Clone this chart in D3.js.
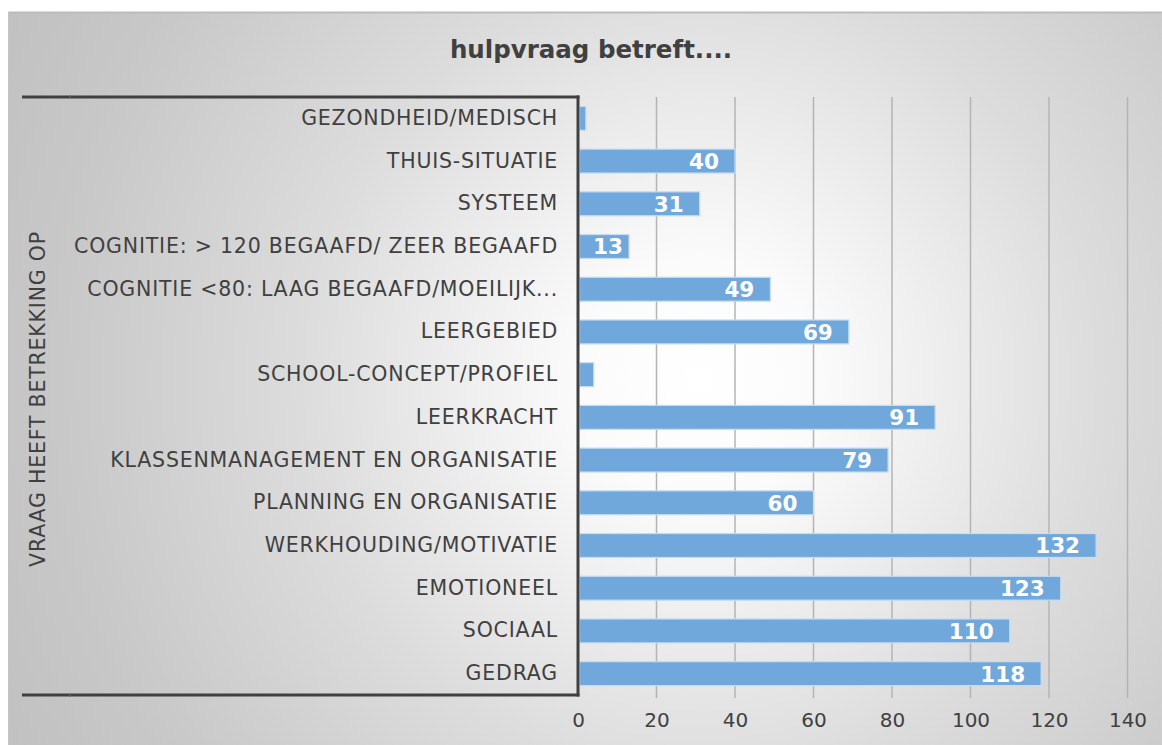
<!DOCTYPE html>
<html>
<head>
<meta charset="utf-8">
<script src="https://cdn.jsdelivr.net/npm/d3@7"></script>
<style>
  html, body { margin: 0; padding: 0; background: #ffffff; }
  svg { display: block; }
</style>
</head>
<body>
<svg id="chart" width="1162" height="745"></svg>
<script>
const categories = [
  "GEZONDHEID/MEDISCH",
  "THUIS-SITUATIE",
  "SYSTEEM",
  "COGNITIE: > 120 BEGAAFD/ ZEER BEGAAFD",
  "COGNITIE <80: LAAG BEGAAFD/MOEILIJK...",
  "LEERGEBIED",
  "SCHOOL-CONCEPT/PROFIEL",
  "LEERKRACHT",
  "KLASSENMANAGEMENT EN ORGANISATIE",
  "PLANNING EN ORGANISATIE",
  "WERKHOUDING/MOTIVATIE",
  "EMOTIONEEL",
  "SOCIAAL",
  "GEDRAG"
];
const values = [2, 40, 31, 13, 49, 69, 4, 91, 79, 60, 132, 123, 110, 118];
const xTicks = [0, 20, 40, 60, 80, 100, 120, 140];
const chartTitle = "hulpvraag betreft....";
const axisTitle = "VRAAG HEEFT BETREKKING OP";

const svg = d3.select("#chart");
const W = 1162, H = 745;
const textColor = "#404040";
const font = "'DejaVu Sans', Verdana, sans-serif";

// Background gradient
const defs = svg.append("defs");
const grad = defs.append("radialGradient")
  .attr("id", "bg").attr("gradientUnits", "userSpaceOnUse")
  .attr("cx", 700).attr("cy", 380).attr("r", 800)
  .attr("fx", 700).attr("fy", 380);
[[0, "#ffffff"], [0.15, "#fbfbfb"], [0.5, "#dcdcdc"], [0.8, "#c8c8c8"], [1, "#c0c0c0"]]
  .forEach(([o, c]) => grad.append("stop").attr("offset", o).attr("stop-color", c));

svg.append("rect").attr("x", 8).attr("y", 12).attr("width", W).attr("height", H)
  .attr("fill", "url(#bg)");
svg.append("line").attr("x1", 8).attr("x2", W).attr("y1", 12.5).attr("y2", 12.5)
  .attr("stroke", "#bcbcbc").attr("stroke-width", 2);
svg.append("line").attr("x1", 8.5).attr("x2", 8.5).attr("y1", 12).attr("y2", H)
  .attr("stroke", "#c4c4c4").attr("stroke-width", 1);

// Scales
const plotLeft = 578, plotTop = 97, plotBottom = 695;
const x = d3.scaleLinear().domain([0, 140]).range([plotLeft, 1127.5]);
const y = d3.scaleBand().domain(categories).range([plotTop, plotBottom])
  .paddingInner(0.44).paddingOuter(0.22);

// Title
svg.append("text").attr("x", 591).attr("y", 58).attr("text-anchor", "middle")
  .attr("font-family", font).attr("font-weight", "bold").attr("font-size", 24.5)
  .attr("fill", textColor).text(chartTitle);

// Gridlines
svg.append("g").selectAll("line").data(xTicks.filter(d => d > 0)).join("line")
  .attr("x1", d => x(d)).attr("x2", d => x(d))
  .attr("y1", plotTop).attr("y2", plotBottom + 3)
  .attr("stroke", "#b4b4b4").attr("stroke-width", 1.5);

// Bars
const data = categories.map((c, i) => ({ c, v: values[i] }));
svg.append("g").selectAll("rect").data(data).join("rect")
  .attr("x", x(0) + 1.5)
  .attr("y", d => y(d.c))
  .attr("width", d => x(d.v) - x(0) - 1.5)
  .attr("height", y.bandwidth())
  .attr("fill", "#70a8dc")
  .attr("stroke", "#c6dcf1").attr("stroke-width", 1.2);

// Data labels (inside end; pushed right when the bar is short)
svg.append("g").selectAll("text").data(data.filter(d => d.v >= 10)).join("text")
  .attr("x", d => Math.max(x(d.v) - 16, x(0) + 45))
  .attr("y", d => y(d.c) + y.bandwidth() / 2)
  .attr("dy", "0.37em")
  .attr("text-anchor", "end")
  .attr("font-family", font).attr("font-weight", "bold").attr("font-size", 21.5)
  .attr("fill", "#ffffff").text(d => d.v);

// Category axis (left)
const yAxis = d3.axisLeft(y).tickSize(0).tickPadding(20);
const gy = svg.append("g").attr("transform", `translate(${plotLeft},0)`).call(yAxis);
gy.select(".domain").remove();
gy.selectAll("text").attr("font-family", font).attr("font-size", 20.5)
  .attr("letter-spacing", "0.8px").attr("fill", textColor);

// Axis frame lines
const frame = svg.append("g").attr("stroke", "#404040").attr("stroke-width", 3).attr("fill", "none");
frame.append("line").attr("x1", 22).attr("x2", plotLeft + 1.5).attr("y1", plotTop).attr("y2", plotTop);
frame.append("line").attr("x1", 22).attr("x2", plotLeft + 1.5).attr("y1", plotBottom).attr("y2", plotBottom);
frame.append("line").attr("x1", plotLeft).attr("x2", plotLeft).attr("y1", plotTop - 1.5).attr("y2", plotBottom + 1.5);
svg.append("g").selectAll("line").data([plotTop, plotBottom]).join("line")
  .attr("x1", 70).attr("x2", 70).attr("y1", d => d - 1.5).attr("y2", d => d + 1.5)
  .attr("stroke", "#6a6a6a").attr("stroke-width", 1);

// Axis title (outer level)
svg.append("text")
  .attr("transform", `translate(45,399) rotate(-90)`)
  .attr("text-anchor", "middle")
  .attr("font-family", font).attr("font-size", 20.5).attr("letter-spacing", "0.8px")
  .attr("fill", textColor).text(axisTitle);

// Value axis (bottom)
const xAxis = d3.axisBottom(x).tickValues(xTicks).tickSize(0).tickPadding(18);
const gx = svg.append("g").attr("transform", `translate(0,${plotBottom})`).call(xAxis);
gx.select(".domain").remove();
gx.selectAll("text").attr("font-family", font).attr("font-size", 20).attr("fill", textColor);
</script>
</body>
</html>
